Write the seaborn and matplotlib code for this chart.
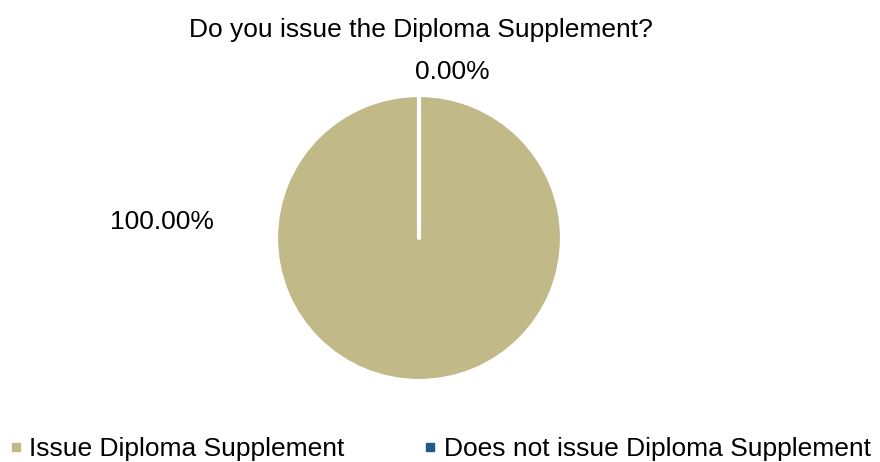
import matplotlib
matplotlib.use("Agg")
import matplotlib.pyplot as plt
from matplotlib.lines import Line2D
import seaborn as sns

# data
categories = ["Issue Diploma Supplement", "Does not issue Diploma Supplement"]
values = [100.0, 0.0]
colors = ["#C1BA88", "#1F5A8C"]
title = "Do you issue the Diploma Supplement?"

sns.set_theme(style="white")
plt.rcParams['font.family'] = ['Liberation Sans', 'DejaVu Sans']
plt.rcParams['text.color'] = "#000000"

fig = plt.figure(figsize=(8.8, 4.62), dpi=100)
ax = fig.add_axes([0, 0, 1, 1])

wedges, _ = ax.pie(values, colors=colors, startangle=90, counterclock=False,
                   radius=1, center=(0, 0),
                   wedgeprops=dict(edgecolor="white", linewidth=3,
                                   capstyle="round"))

# pixel-like layout: pie centre at (419, 238) px, radius 143 px
scale = 143
ax.set_xlim(-419 / scale, (880 - 419) / scale)
ax.set_ylim(-(462 - 238) / scale, 238 / scale)
ax.set_aspect("equal")
ax.axis("off")

# percentage labels
total = sum(values)
label_pos = [(162, 222), (452, 72)]
for v, (px, py) in zip(values, label_pos):
    fig.text(px / 880, 1 - py / 462, f"{v / total * 100:.2f}%",
             ha="center", va="center", fontsize=19, color="#000000")

fig.text(421 / 880, 1 - 30 / 462, title, ha="center", va="center",
         fontsize=19, color="#000000")

handles = [Line2D([], [], marker="s", linestyle="none", markersize=6,
                  markerfacecolor=c, markeredgecolor=c) for c in colors]
leg = fig.legend(handles, categories, loc="center",
                 bbox_to_anchor=(440 / 880, 1 - 449 / 462),
                 ncol=2, frameon=False, fontsize=19, handlelength=0.5,
                 handletextpad=0.25, columnspacing=3.0, borderaxespad=0)
for t in leg.get_texts():
    t.set_color("#000000")

fig.savefig("out.png", dpi=100)
